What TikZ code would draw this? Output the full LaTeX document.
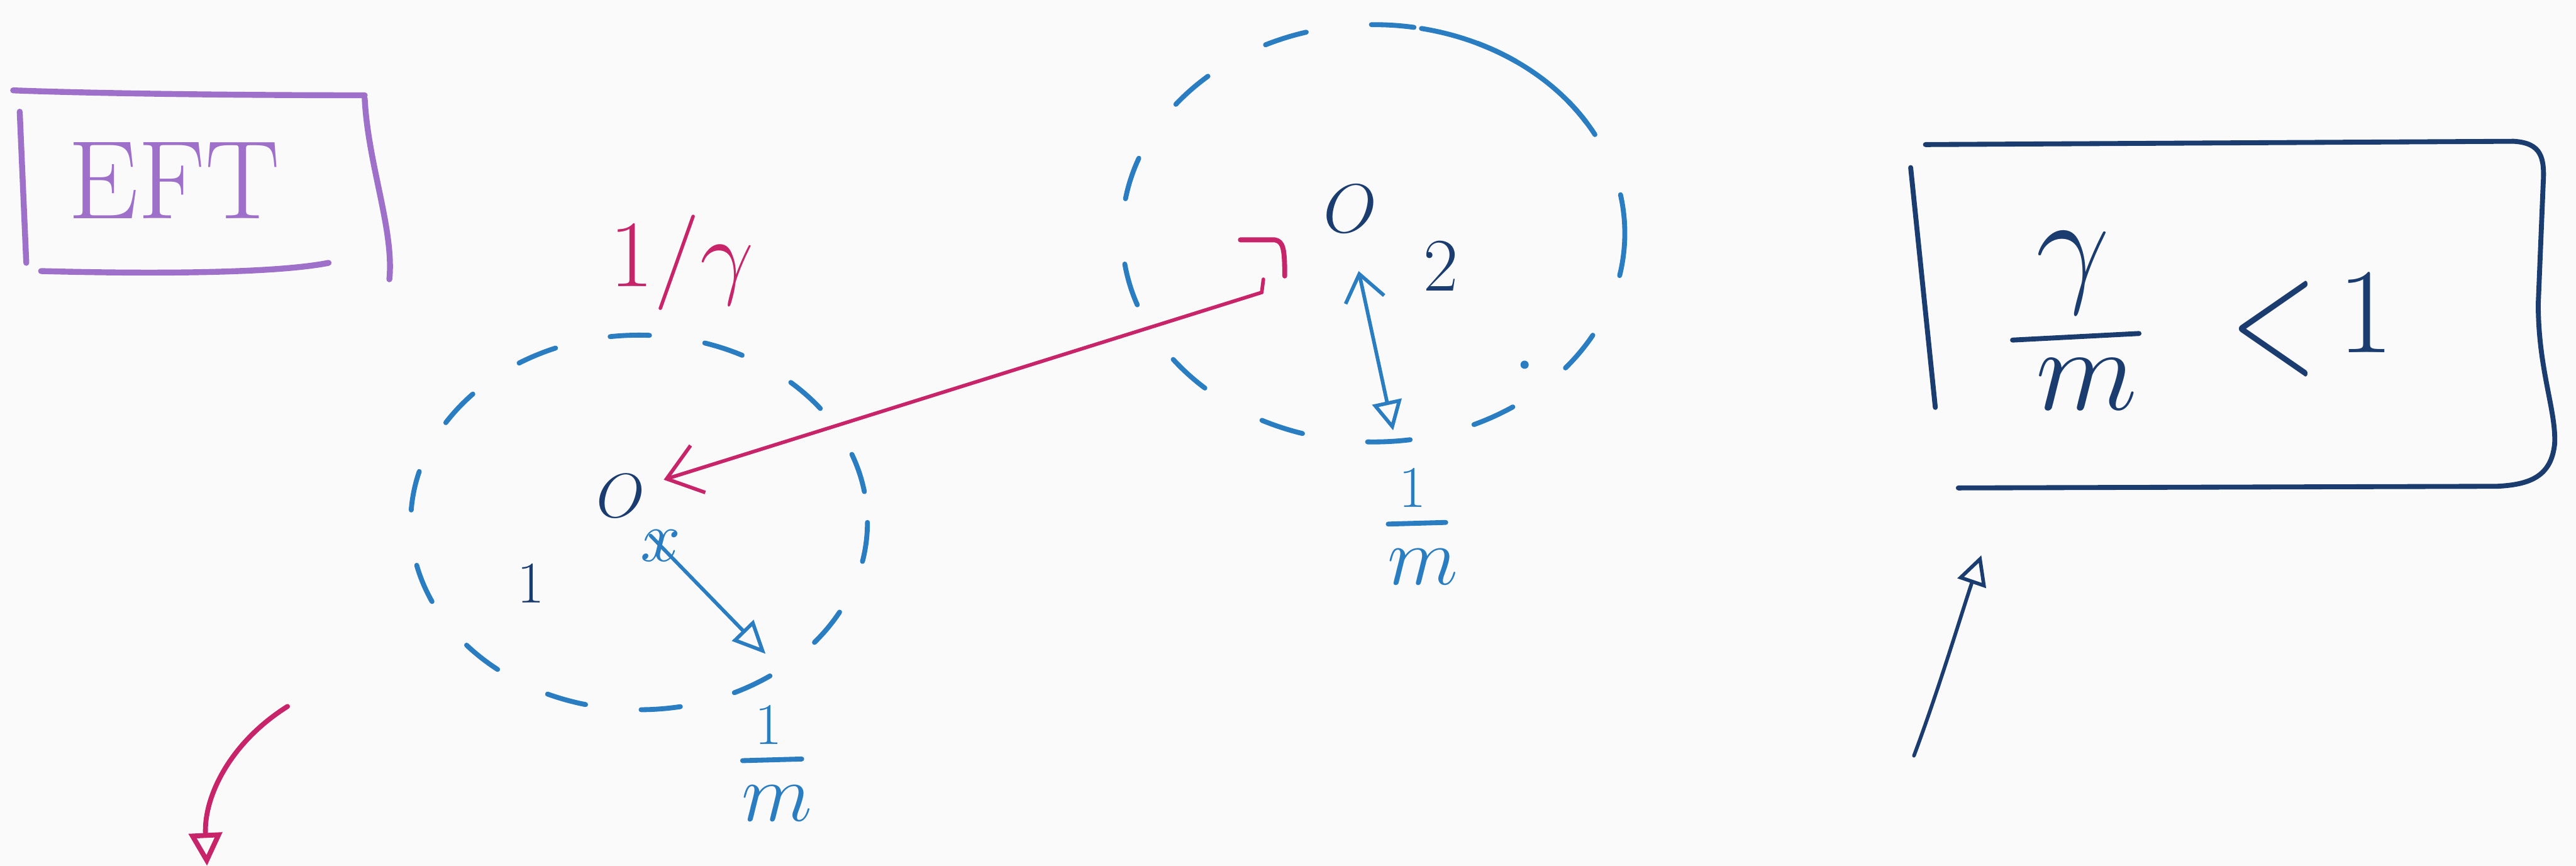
\RequirePackage{fix-cm}
\documentclass[tikz,border=0pt]{standalone}
\usepackage{graphicx}
\usetikzlibrary{arrows.meta}
\definecolor{bgc}{RGB}{250,250,250}
\definecolor{purp}{RGB}{158,112,202}
\definecolor{blu}{RGB}{42,125,192}
\definecolor{nav}{RGB}{27,60,110}
\definecolor{mag}{RGB}{200,36,106}
\begin{document}
\begin{tikzpicture}[x=1pt,y=-1pt,line cap=round,line join=round,
  thick pen/.style={line width=3.6pt},
  pen/.style={line width=3pt},
  thin pen/.style={line width=2.2pt},
  lbl/.style={inner sep=0pt},
  dashring/.style={pen,blu,dash pattern=on 24pt off 34pt}]
\fill[bgc] (0,0) rectangle (1568,527);
\useasboundingbox (0,0) rectangle (1568,527);

% EFT box
\draw[thick pen,purp] (8,55) .. controls (60,57) and (150,58) .. (222,58);
\draw[thick pen,purp] (222,60) .. controls (224,100) and (240,140) .. (237,170);
\draw[thick pen,purp] (12,68) -- (16,160);
\draw[thick pen,purp] (25,165) .. controls (100,167) and (170,166) .. (200,160);
\node[lbl,purp,font=\fontsize{68}{80}\selectfont] (eft) at (106,110) {EFT};

% left region
\draw[dashring] (389,318) ellipse [x radius=139, y radius=114];
\node[lbl,mag,font=\fontsize{58}{66}\selectfont] (invg) at (415,160) {$1/\gamma$};
\node[lbl,nav,font=\fontsize{38}{46}\selectfont] (O1) at (378,302) {$O$};
\node[lbl,nav,font=\fontsize{36}{44}\selectfont] (one) at (323,355) {1};
\node[lbl,blu,font=\fontsize{44}{50}\selectfont] (xl) at (402,332) {$x$};
\coordinate (r1s) at (396,326);
\coordinate (r1e) at (466,398);
\draw[thin pen,blu,-{Triangle[open,length=20pt,width=18pt]}] (r1s) -- (r1e);
\node[lbl,blu,font=\fontsize{36}{44}\selectfont] (m1n) at (468,441) {1};
\draw[pen,blu] (452,463) -- (488,462);
\node[lbl,blu,font=\fontsize{50}{56}\selectfont] (m1d) at (473,489) {$m$};

% right region
\draw[dashring,dash pattern=on 26pt off 40pt] (836,142) ellipse [x radius=153, y radius=127];
\draw[pen,blu] (836,142) ++(-32:153 and 127) arc[start angle=-32, end angle=-79, x radius=153, y radius=127];
\fill[blu] (928,222) circle (2.5);
\node[lbl,nav,font=\fontsize{42}{50}\selectfont] (O2) at (822,127) {$O$};
\node[lbl,nav,font=\fontsize{46}{52}\selectfont] (two) at (877,162) {2};
\draw[pen,mag] (755,146) -- (776,146) .. controls (781,147) and (782,151) .. (782,168);
\coordinate (a2) at (768,178);
\coordinate (a2tip) at (404,292);
\draw[thin pen,mag,-{Straight Barb[length=20pt,width=30pt]}] (a2) -- (a2tip);
\draw[thin pen,mag] (a2) -- (769,170);
\coordinate (r2s) at (848,262);
\coordinate (r2e) at (827,165);
\draw[thin pen,blu,{Triangle[open,length=18pt,width=18pt]}-{Straight Barb[length=16pt,width=24pt]}] (r2s) -- (r2e);
\node[lbl,blu,font=\fontsize{36}{44}\selectfont] (m2n) at (860,297) {1};
\draw[pen,blu] (845,319) -- (880,318);
\node[lbl,blu,font=\fontsize{50}{56}\selectfont] (m2d) at (866,345) {$m$};

% right box
\draw[pen,nav] (1172,88) -- (1530,86) .. controls (1547,87) and (1549,96) .. (1548,112) -- (1545,185) .. controls (1545,225) and (1556,250) .. (1555,270) .. controls (1553,290) and (1540,295) .. (1520,296) -- (1192,297);
\draw[pen,nav] (1163,102) -- (1178,248);
\node[lbl,nav,font=\fontsize{80}{90}\selectfont] (gam) at (1262,166) {$\gamma$};
\draw[pen,nav] (1225,207) -- (1302,203);
\node[lbl,nav,font=\fontsize{72}{80}\selectfont] (mm) at (1270,234) {$m$};
\node[lbl,nav,font=\fontsize{70}{80}\selectfont] (lt) at (1384,200) {\scalebox{1}[1.5]{$<$}};
\node[lbl,nav,font=\fontsize{74}{84}\selectfont] (onebox) at (1440,190) {1};
\coordinate (nas) at (1165,460);
\coordinate (nae) at (1206,338);
\draw[thin pen,nav,-{Triangle[open,length=18pt,width=18pt]}] (nas) .. controls (1180,420) and (1195,370) .. (nae);

% bottom-left arrow
\coordinate (mas) at (175,430);
\coordinate (mae) at (126,527);
\draw[pen,mag,-{Triangle[open,length=20pt,width=20pt]}] (mas) .. controls (140,452) and (124,485) .. (mae);
\end{tikzpicture}
\end{document}
